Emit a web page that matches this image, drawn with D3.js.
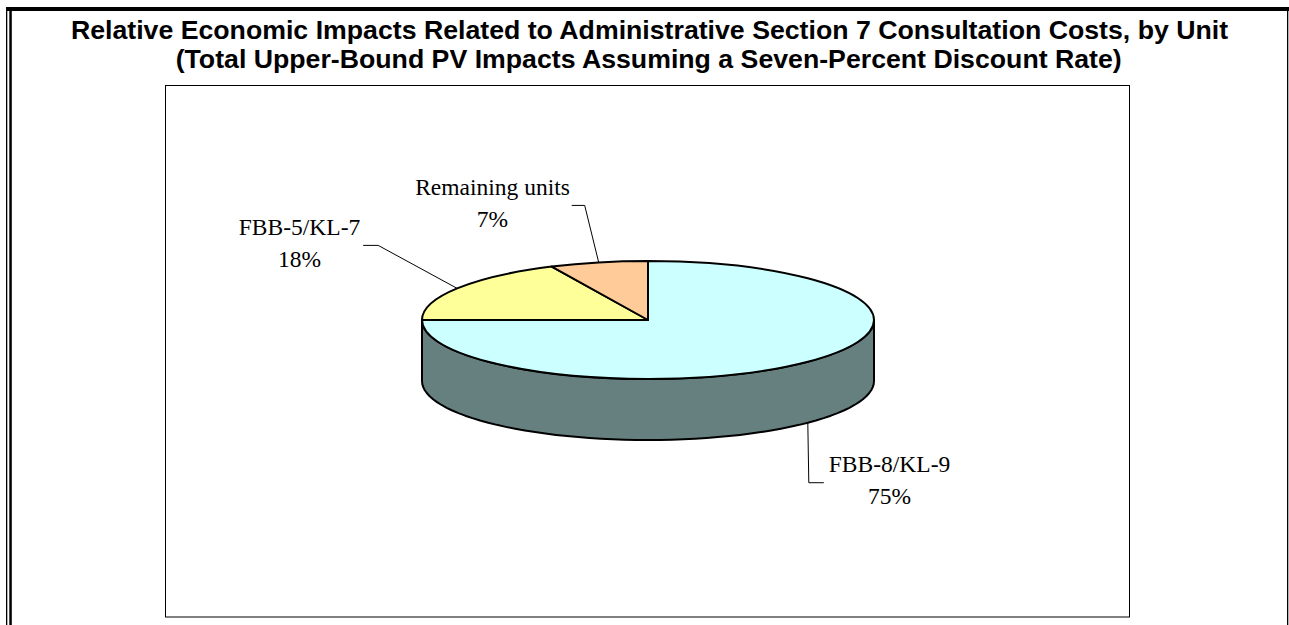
<!DOCTYPE html>
<html><head><meta charset="utf-8">
<script src="https://cdn.jsdelivr.net/npm/d3@7"></script>
<style>html,body{margin:0;padding:0;background:#fff;overflow:hidden}svg{display:block}</style>
</head><body><svg id="c" width="1289" height="625"></svg>
<script>
const titleLines = ["Relative Economic Impacts Related to Administrative Section 7 Consultation Costs, by Unit",
  "(Total Upper-Bound PV Impacts Assuming a Seven-Percent Discount Rate)"];
const categories = ["FBB-8/KL-9","FBB-5/KL-7","Remaining units"];
const shares = [75,18,7];
const topColors = ["#CCFFFF","#FFFF99","#FFCC99"];
const sideColor = "#668080";

const cx=648, cy=320, rx=226, ry=59, depth=61;
const svg=d3.select("#c");

// outer frame
svg.append("rect").attr("x",6).attr("y",7).attr("width",1283).attr("height",4).attr("fill","#000");
svg.append("rect").attr("x",6).attr("y",7).attr("width",1.3).attr("height",618).attr("fill","#000");
svg.append("rect").attr("x",9.3).attr("y",7).attr("width",2.5).attr("height",618).attr("fill","#000");
svg.append("rect").attr("x",1287).attr("y",7).attr("width",1.3).attr("height",618).attr("fill","#000");

// title
svg.selectAll("text.t").data(titleLines).join("text").attr("class","t")
  .attr("x",(d,i)=>i?648.7:649.5).attr("y",(d,i)=>39+i*29).attr("text-anchor","middle")
  .attr("font-family","Liberation Sans").attr("font-weight","bold").attr("font-size",26.7).text(d=>d);

// plot box
svg.append("rect").attr("x",165.5).attr("y",85.5).attr("width",964).attr("height",531.5)
  .attr("fill","#fff").attr("stroke","#000").attr("stroke-width",1);

const pie=d3.pie().sort(null).value(d=>d)(shares);
const arc=d3.arc().innerRadius(0).outerRadius(1);
const X=d3.scaleLinear().domain([-1,1]).range([cx-rx,cx+rx]);
const Y=d3.scaleLinear().domain([-1,1]).range([cy-ry,cy+ry]);

// side wall: bottom half of the ellipse, extruded
const sidePts=d3.range(0,181,3).map(a=>{const t=a*Math.PI/180;return [X(Math.cos(t)),Y(Math.sin(t))];});
const side=d3.line()([...sidePts,...sidePts.slice().reverse().map(p=>[p[0],p[1]+depth])])+"Z";
svg.append("path").attr("d",side).attr("fill",sideColor).attr("stroke","#000").attr("stroke-width",2).attr("stroke-linejoin","round");

// top slices (unit circle arcs, scaled to an ellipse)
const g=svg.append("g").attr("transform",`translate(${cx},${cy}) scale(${rx},${ry})`);
g.selectAll("path").data(pie).join("path").attr("d",arc)
  .attr("fill",(d,i)=>topColors[i]).attr("stroke","#000").attr("stroke-width",2)
  .attr("vector-effect","non-scaling-stroke").attr("stroke-linejoin","round");

// leaders start on the rim at each slice's mid-angle
const rim=d=>{const m=(d.startAngle+d.endAngle)/2;const s=Math.sin(m),c=-Math.cos(m);
  return [X(s),Y(c)+(c>0?depth:0)];};
const bends=[[1,60],[-79,-43],[-14,-57]];
const ends=[[16,60],[-94,-43],[-27,-57]];
const labelAt=[[889.5,472],[299.5,235],[492.5,195]];
pie.forEach((d,i)=>{
  const p=rim(d);
  svg.append("path").attr("fill","none").attr("stroke","#000").attr("stroke-width",1)
    .attr("d",d3.line()([p,[p[0]+bends[i][0],p[1]+bends[i][1]],[p[0]+ends[i][0],p[1]+ends[i][1]]]));
  const t=svg.append("text").attr("text-anchor","middle").attr("font-family","Liberation Serif").attr("font-size",23.5).attr("fill","#000");
  t.append("tspan").attr("x",labelAt[i][0]).attr("y",labelAt[i][1]).text(categories[i]);
  t.append("tspan").attr("x",labelAt[i][0]).attr("y",labelAt[i][1]+32).text(shares[i]+"%");
});
</script></body></html>
